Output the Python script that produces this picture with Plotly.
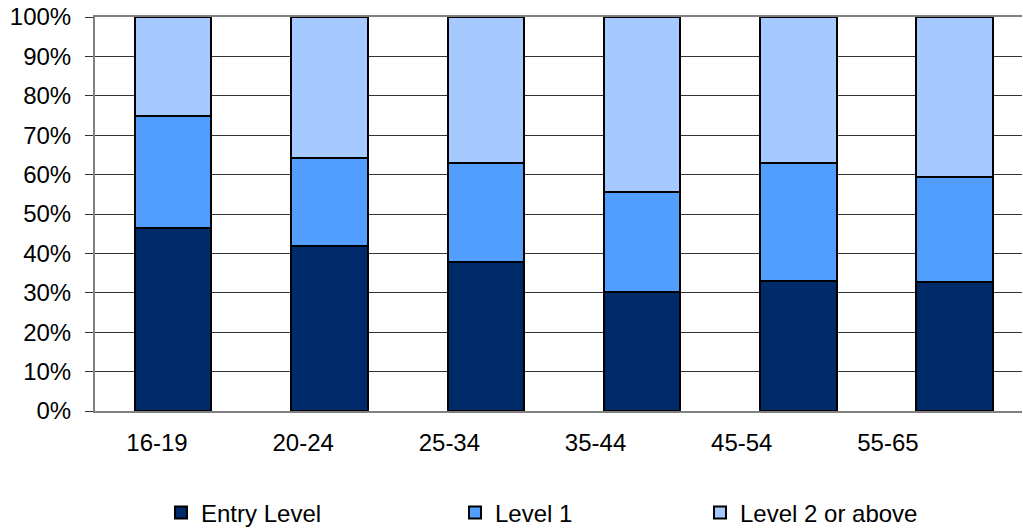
import plotly.graph_objects as go

# Share of each qualification level within each age group (percent)
age_groups = ["16-19", "20-24", "25-34", "35-44", "45-54", "55-65"]
entry_level = [46.4, 41.9, 37.9, 30.3, 33.1, 32.8]
level_1 = [28.5, 22.3, 25.1, 25.3, 29.9, 26.7]
level_2_plus = [25.1, 35.8, 37.0, 44.4, 37.0, 40.5]
y_ticks = list(range(0, 101, 10))
y_tick_labels = [f"{v}%" for v in y_ticks]

series = [
    ("Entry Level", entry_level, "#002B6B", "legend"),
    ("Level 1", level_1, "#529EFF", "legend2"),
    ("Level 2 or above", level_2_plus, "#A6CAFF", "legend3"),
]

FONT = dict(family="Arial, 'Liberation Sans', sans-serif", size=24, color="#000000")

fig = go.Figure()
for name, values, colour, legend_id in series:
    fig.add_trace(go.Bar(
        x=age_groups, y=values, name=name,
        marker=dict(color=colour, line=dict(color="#000000", width=2)),
        legend=legend_id,
    ))

# Empty trace that carries the category label axis
fig.add_trace(go.Scatter(
    x=age_groups, y=[None] * len(age_groups), xaxis="x2",
    showlegend=False, hoverinfo="skip", mode="markers",
))

legend_common = dict(
    orientation="h", xref="container", yref="container",
    xanchor="left", yanchor="middle", y=0.034,
    font=FONT, bgcolor="rgba(0,0,0,0)", borderwidth=0,
)

fig.update_layout(
    width=1023, height=531, autosize=False,
    margin=dict(l=95, r=1, t=17, b=120),
    paper_bgcolor="#FFFFFF", plot_bgcolor="#FFFFFF",
    font=FONT,
    barmode="stack", bargap=0.51,
    xaxis=dict(
        type="category", categoryorder="array", categoryarray=age_groups,
        range=[-0.5, 5.43], showticklabels=False, ticks="",
        showgrid=False, zeroline=False,
        showline=True, linecolor="#808080", linewidth=2, mirror=True,
    ),
    xaxis2=dict(
        type="category", categoryorder="array", categoryarray=age_groups,
        overlaying="x", anchor="y", side="bottom",
        range=[-0.424, 5.917], showgrid=False, zeroline=False, showline=False,
        ticks="", ticklabelstandoff=15, tickfont=FONT,
    ),
    yaxis=dict(
        range=[0, 100], tickmode="array", tickvals=y_ticks, ticktext=y_tick_labels,
        showgrid=True, gridcolor="#333333", gridwidth=1,
        zeroline=False, showline=True, linecolor="#808080", linewidth=2,
        ticks="outside", ticklen=8, tickcolor="#333333", tickwidth=1,
        ticklabelstandoff=9, tickfont=FONT,
    ),
    legend=dict(legend_common, x=161 / 1023),
    legend2=dict(legend_common, x=455 / 1023),
    legend3=dict(legend_common, x=700 / 1023),
    showlegend=True,
)

fig.write_html("out.html")
